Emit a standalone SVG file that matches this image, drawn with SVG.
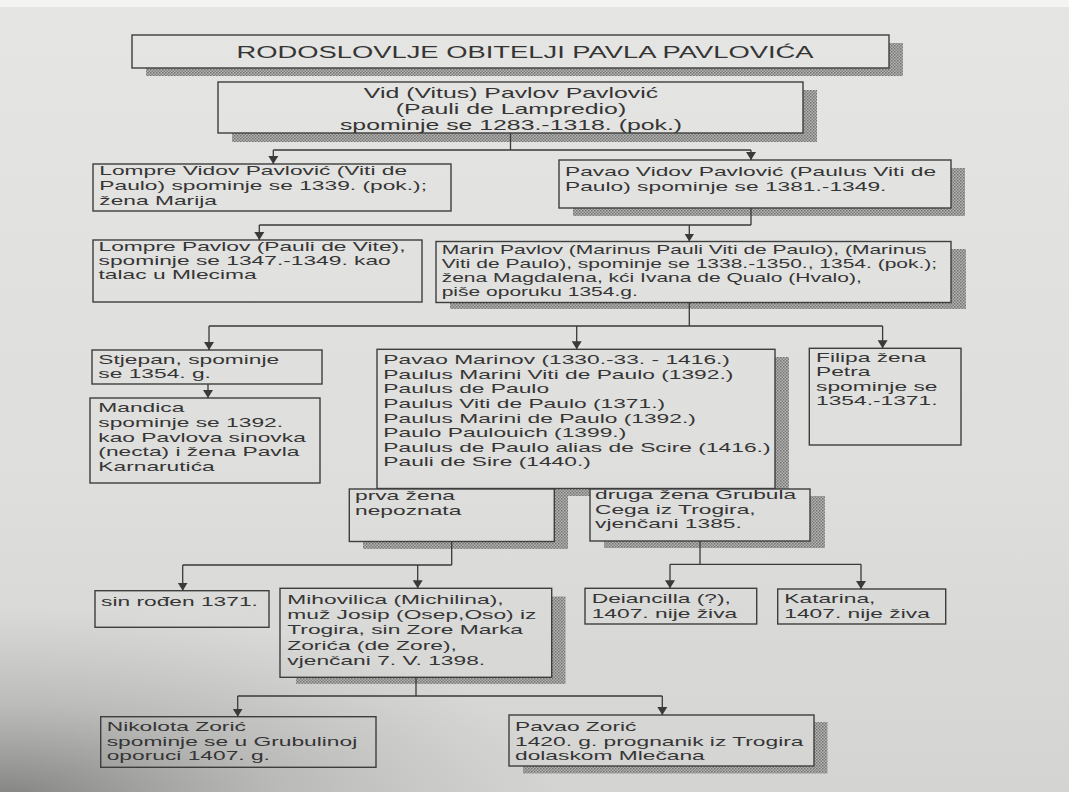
<svg xmlns="http://www.w3.org/2000/svg" width="1069" height="792" viewBox="0 0 1069 792">
<defs>
<linearGradient id="paper" gradientUnits="userSpaceOnUse" x1="0" y1="0" x2="0" y2="792">
<stop offset="0" stop-color="#e5e5e3"/>
<stop offset="0.6" stop-color="#dededc"/>
<stop offset="1" stop-color="#d4d4d2"/>
</linearGradient>
<radialGradient id="vig" gradientUnits="userSpaceOnUse" cx="0" cy="0" r="350" gradientTransform="translate(0,800) scale(1.6,0.55)">
<stop offset="0" stop-color="#4a4a4a" stop-opacity="0.6"/>
<stop offset="0.5" stop-color="#6a6a6a" stop-opacity="0.25"/>
<stop offset="1" stop-color="#808080" stop-opacity="0"/>
</radialGradient>
<pattern id="hatch" width="3" height="3" patternUnits="userSpaceOnUse">
<rect width="3" height="3" fill="#b4b4b2"/>
<rect width="1.5" height="1.5" fill="#737373"/>
<rect x="1.5" y="1.5" width="1.5" height="1.5" fill="#808080"/>
</pattern>
<marker id="arr" markerUnits="userSpaceOnUse" viewBox="0 -6 8 12" markerWidth="8" markerHeight="12" refX="8" refY="0" orient="auto">
<path d="M0,-5 L8,0 L0,5 Z" fill="#3a3a3a"/>
</marker>
</defs>
<style>
.bx{fill:none;stroke:#3e3e3e;stroke-width:1.4}
.bxf{fill:url(#paper);stroke:#3e3e3e;stroke-width:1.4}
.sh{fill:url(#hatch)}
.t{font-family:"Liberation Sans",Arial,sans-serif;font-size:13.4px;fill:#353535}
.tm{font-family:"Liberation Sans",Arial,sans-serif;font-size:12.35px;fill:#353535}
.tt{font-family:"Liberation Sans",Arial,sans-serif;font-size:16.1px;fill:#353535;text-anchor:middle}
.tv{font-family:"Liberation Sans",Arial,sans-serif;font-size:14.6px;fill:#353535;text-anchor:middle}
.c{fill:none;stroke:#3a3a3a;stroke-width:1.3}
.ca{fill:none;stroke:#3a3a3a;stroke-width:1.3;marker-end:url(#arr)}
</style>
<rect width="1069" height="792" fill="url(#paper)"/>
<rect width="1069" height="792" fill="url(#vig)"/>
<rect width="1069" height="7" fill="#f4f4f3"/>

<g id="n_title">
<path class="sh" d="M889,43 H903 V76 H146 V68 H889 Z"/>
<rect class="bx" x="132" y="35" width="757" height="33"/>
<g transform="translate(525,0) scale(1.7,1)"><text class="tt" x="0" y="58.5">RODOSLOVLJE OBITELJI PAVLA PAVLOVIĆA</text></g>
</g>

<g id="n_vid">
<path class="sh" d="M803,90 H817 V142 H232 V133 H803 Z"/>
<rect class="bx" x="218" y="82" width="585" height="51"/>
<g transform="translate(511,0) scale(1.7,1)"><text class="tv"><tspan x="0" y="98.3">Vid (Vitus) Pavlov Pavlović</tspan><tspan x="0" y="114.5">(Pauli de Lampredio)</tspan><tspan x="0" y="130.5">spominje se 1283.-1318. (pok.)</tspan></text></g>
</g>

<g id="n_lompre_vidov">
<rect class="bx" x="93" y="164" width="358" height="47"/>
<g transform="translate(99.3,0) scale(1.7,1)"><text class="t"><tspan x="0" y="175.5">Lompre Vidov Pavlović (Viti de</tspan><tspan x="0" y="190.5">Paulo) spominje se 1339. (pok.);</tspan><tspan x="0" y="205.5">žena Marija</tspan></text></g>
</g>

<g id="n_pavao_vidov">
<path class="sh" d="M951,168 H965 V216 H573 V208 H951 Z"/>
<rect class="bx" x="559" y="160" width="392" height="48"/>
<g transform="translate(565,0) scale(1.7,1)"><text class="t"><tspan x="0" y="176.5">Pavao Vidov Pavlović (Paulus Viti de</tspan><tspan x="0" y="191.5">Paulo) spominje se 1381.-1349.</tspan></text></g>
</g>

<g id="n_lompre_pavlov">
<rect class="bx" x="93" y="240" width="329" height="62"/>
<g transform="translate(98.5,0) scale(1.7,1)"><text class="t"><tspan x="0" y="251.5">Lompre Pavlov (Pauli de Vite),</tspan><tspan x="0" y="265.5">spominje se 1347.-1349. kao</tspan><tspan x="0" y="279.5">talac u Mlecima</tspan></text></g>
</g>

<g id="n_marin">
<path class="sh" d="M951,249 H966 V309 H450 V302.5 H951 Z"/>
<rect class="bx" x="436" y="241.5" width="515" height="61"/>
<g transform="translate(441.7,0) scale(1.7,1)"><text class="tm"><tspan x="0" y="254">Marin Pavlov (Marinus Pauli Viti de Paulo), (Marinus</tspan><tspan x="0" y="268">Viti de Paulo), spominje se 1338.-1350., 1354. (pok.);</tspan><tspan x="0" y="282">žena Magdalena, kći Ivana de Qualo (Hvalo),</tspan><tspan x="0" y="296">piše oporuku 1354.g.</tspan></text></g>
</g>

<g id="n_stjepan">
<rect class="bx" x="92" y="350" width="230" height="34"/>
<g transform="translate(98.3,0) scale(1.7,1)"><text class="t"><tspan x="0" y="364">Stjepan, spominje</tspan><tspan x="0" y="378.3">se 1354. g.</tspan></text></g>
</g>

<g id="n_mandica">
<rect class="bx" x="90" y="398" width="230" height="85"/>
<g transform="translate(98.3,0) scale(1.7,1)"><text class="t"><tspan x="0" y="412.5">Mandica</tspan><tspan x="0" y="427">spominje se 1392.</tspan><tspan x="0" y="441.7">kao Pavlova sinovka</tspan><tspan x="0" y="456.5">(necta) i žena Pavla</tspan><tspan x="0" y="471">Karnarutića</tspan></text></g>
</g>

<g id="n_pavao_marinov">
<path class="sh" d="M775,357 H789 V496 H391 V488.5 H775 Z"/>
<rect class="bx" x="377" y="349.3" width="398" height="139.2"/>
<g transform="translate(383.3,0) scale(1.7,1)"><text class="t"><tspan x="0" y="364.3">Pavao Marinov (1330.-33. - 1416.)</tspan><tspan x="0" y="378.9">Paulus Marini Viti de Paulo (1392.)</tspan><tspan x="0" y="393.5">Paulus de Paulo</tspan><tspan x="0" y="408.1">Paulus Viti de Paulo (1371.)</tspan><tspan x="0" y="422.7">Paulus Marini de Paulo (1392.)</tspan><tspan x="0" y="437.3">Paulo Paulouich (1399.)</tspan><tspan x="0" y="451.9">Paulus de Paulo alias de Scire (1416.)</tspan><tspan x="0" y="466.5">Pauli de Sire (1440.)</tspan></text></g>
</g>

<g id="n_filipa">
<rect class="bx" x="809.3" y="348.3" width="151.7" height="96.7"/>
<g transform="translate(816,0) scale(1.7,1)"><text class="t"><tspan x="0" y="361.7">Filipa žena</tspan><tspan x="0" y="376">Petra</tspan><tspan x="0" y="390.7">spominje se</tspan><tspan x="0" y="405">1354.-1371.</tspan></text></g>
</g>

<g id="n_prva">
<path class="sh" d="M554.3,496 H568 V549 H363 V541.5 H554.3 Z"/>
<rect class="bxf" x="349.3" y="489" width="205" height="52.5"/>
<g transform="translate(355,0) scale(1.7,1)"><text class="t"><tspan x="0" y="500.5">prva žena</tspan><tspan x="0" y="515">nepoznata</tspan></text></g>
</g>

<g id="n_druga">
<path class="sh" d="M810,496 H825 V548 H604 V541 H810 Z"/>
<rect class="bxf" x="590" y="489" width="220" height="52"/>
<g transform="translate(595,0) scale(1.7,1)"><text class="t"><tspan x="0" y="499">druga žena Grubula</tspan><tspan x="0" y="513.7">Cega iz Trogira,</tspan><tspan x="0" y="528.3">vjenčani 1385.</tspan></text></g>
</g>

<g id="n_sin">
<rect class="bx" x="95" y="590.7" width="174" height="36.6"/>
<g transform="translate(101,0) scale(1.7,1)"><text class="t" x="0" y="606">sin rođen 1371.</text></g>
</g>

<g id="n_mihovilica">
<path class="sh" d="M551.7,596.5 H565.5 V684 H296 V677.3 H551.7 Z"/>
<rect class="bx" x="280" y="588.3" width="271.7" height="89"/>
<g transform="translate(287.3,0) scale(1.7,1)"><text class="t"><tspan x="0" y="604">Mihovilica (Michilina),</tspan><tspan x="0" y="619.3">muž Josip (Osep,Oso) iz</tspan><tspan x="0" y="634.5">Trogira, sin Zore Marka</tspan><tspan x="0" y="649.8">Zorića (de Zore),</tspan><tspan x="0" y="665">vjenčani 7. V. 1398.</tspan></text></g>
</g>

<g id="n_deiancilla">
<rect class="bx" x="585" y="588.3" width="171.7" height="35.7"/>
<g transform="translate(591.7,0) scale(1.7,1)"><text class="t"><tspan x="0" y="603.3">Deiancilla (?),</tspan><tspan x="0" y="618.3">1407. nije živa</tspan></text></g>
</g>

<g id="n_katarina">
<rect class="bx" x="777.7" y="589" width="168" height="35"/>
<g transform="translate(784.3,0) scale(1.7,1)"><text class="t"><tspan x="0" y="603.5">Katarina,</tspan><tspan x="0" y="618.5">1407. nije živa</tspan></text></g>
</g>

<g id="n_nikolota">
<rect class="bx" x="100.7" y="716.7" width="275.3" height="50.6"/>
<g transform="translate(106.7,0) scale(1.7,1)"><text class="t"><tspan x="0" y="731.5">Nikolota Zorić</tspan><tspan x="0" y="746">spominje se u Grubulinoj</tspan><tspan x="0" y="760.5">oporuci 1407. g.</tspan></text></g>
</g>

<g id="n_pavao_zoric">
<path class="sh" d="M814,722 H827.5 V773.5 H523 V766 H814 Z"/>
<rect class="bx" x="509" y="715" width="305" height="51"/>
<g transform="translate(515,0) scale(1.7,1)"><text class="t"><tspan x="0" y="731">Pavao Zorić</tspan><tspan x="0" y="745.7">1420. g. prognanik iz Trogira</tspan><tspan x="0" y="760">dolaskom Mlečana</tspan></text></g>
</g>

<g id="connectors">
<path class="c" d="M510.5,133 V150 M273.3,150 H751"/>
<path class="ca" d="M273.3,150 V164"/>
<path class="ca" d="M751,150 V160"/>
<path class="c" d="M751,208 V225 M259.3,225 H751"/>
<path class="ca" d="M259.3,225 V240"/>
<path class="ca" d="M689.3,225 V241.5"/>
<path class="c" d="M689.3,302.5 V326 M209,326 H882.6"/>
<path class="ca" d="M209,326 V350"/>
<path class="ca" d="M576.7,326 V349.3"/>
<path class="ca" d="M882.6,326 V348.3"/>
<path class="ca" d="M208,384 V398"/>
<path class="c" d="M451.7,541.5 V565 M182.7,565 H451.7"/>
<path class="ca" d="M182.7,565 V590.7"/>
<path class="ca" d="M417.7,565 V588.3"/>
<path class="c" d="M700,541 V564.3 M670,564.3 H861"/>
<path class="ca" d="M670,564.3 V588.3"/>
<path class="ca" d="M861,564.3 V589"/>
<path class="c" d="M416,677.3 V696 M237.7,696 H662.3"/>
<path class="ca" d="M237.7,696 V716.7"/>
<path class="ca" d="M662.3,696 V715"/>
</g>
</svg>
